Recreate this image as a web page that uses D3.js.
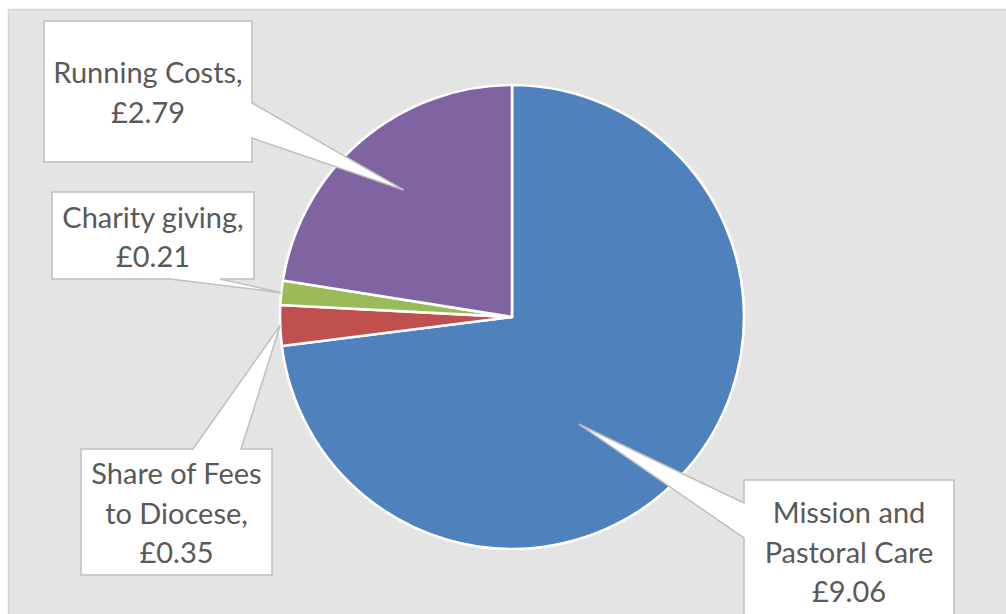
<!DOCTYPE html>
<html>
<head>
<meta charset="utf-8">
<script src="https://cdn.jsdelivr.net/npm/d3@7"></script>
<style>
  html, body { margin: 0; padding: 0; background: #ffffff; }
  svg { display: block; }
</style>
</head>
<body>
<svg id="chart" width="1006" height="614"></svg>
<script>
// ---- data ----
const categories = ["Mission and Pastoral Care", "Share of Fees to Diocese", "Charity giving", "Running Costs"];
const values = [9.06, 0.35, 0.21, 2.79];
const labelLines = [
  ["Mission and", "Pastoral Care", "£9.06"],
  ["Share of Fees", "to Diocese,", "£0.35"],
  ["Charity giving,", "£0.21"],
  ["Running Costs,", "£2.79"]
];
const colors = ["#4f81bd", "#c0504d", "#9bbb59", "#8064a2"];

// ---- layout (positions only) ----
const W = 1006, H = 614;
const cx = 512, cy = 317, R = 232;
const callouts = [
  { box: [744, 480, 954, 640], side: "left",   a: 503, b: 538, tipAngle: 148, tipFrac: 0.545, baseline: 523 },
  { box: [81, 449, 272, 575],  side: "top",    a: 193, b: 241, tipAngle: null, tipFrac: 1.0, baseline: 484 },
  { box: [52, 192, 254, 279],  side: "bottom", a: 170, b: 220, tipAngle: null, tipFrac: 1.0, baseline: 227.5 },
  { box: [44, 21, 252, 162],   side: "right",  a: 103, b: 138, tipAngle: null, tipFrac: 0.72, baseline: 83 }
];
const lineStep = 39.5;

const svg = d3.select("#chart");

// chart area background
svg.append("rect")
  .attr("x", 8.5).attr("y", 9.5)
  .attr("width", W + 20).attr("height", H + 20)
  .attr("fill", "#e4e4e4")
  .attr("stroke", "#d6d6d6")
  .attr("stroke-width", 1.5);

const pie = d3.pie().sort(null).value(d => d).startAngle(0).endAngle(2 * Math.PI);
const arcs = pie(values);
const arc = d3.arc().innerRadius(0).outerRadius(R);

const g = svg.append("g").attr("transform", `translate(${cx},${cy})`);
g.selectAll("path.slice")
  .data(arcs)
  .join("path")
  .attr("class", "slice")
  .attr("d", arc)
  .attr("fill", (d, i) => colors[i])
  .attr("stroke", "#ffffff")
  .attr("stroke-width", 2.6)
  .attr("stroke-linejoin", "round");

// callouts
function tipPoint(d, c) {
  const ang = c.tipAngle != null ? c.tipAngle * Math.PI / 180 : (d.startAngle + d.endAngle) / 2;
  const r = R * c.tipFrac;
  return [cx + r * Math.sin(ang), cy - r * Math.cos(ang)];
}
function calloutPath(c, tip) {
  const [x0, y0, x1, y1] = c.box;
  let pts;
  if (c.side === "right") {
    pts = [[x0, y0], [x1, y0], [x1, c.a], tip, [x1, c.b], [x1, y1], [x0, y1]];
  } else if (c.side === "left") {
    pts = [[x0, y0], [x1, y0], [x1, y1], [x0, y1], [x0, c.b], tip, [x0, c.a]];
  } else if (c.side === "top") {
    pts = [[x0, y0], [c.a, y0], tip, [c.b, y0], [x1, y0], [x1, y1], [x0, y1]];
  } else {
    pts = [[x0, y0], [x1, y0], [x1, y1], [c.b, y1], tip, [c.a, y1], [x0, y1]];
  }
  return "M" + pts.map(p => p.join(",")).join("L") + "Z";
}

const lg = svg.append("g");
arcs.forEach((d, i) => {
  const c = callouts[i];
  const tip = tipPoint(d, c);
  lg.append("path")
    .attr("d", calloutPath(c, tip))
    .attr("fill", "#ffffff")
    .attr("stroke", "#bfbfbf")
    .attr("stroke-width", 1.5)
    .attr("stroke-linejoin", "miter");
  const mx = (c.box[0] + c.box[2]) / 2;
  const t = lg.append("text")
    .attr("text-anchor", "middle")
    .attr("font-family", "Lato, 'Open Sans', sans-serif")
    .attr("font-size", 29)
    .attr("fill", "#595959");
  labelLines[i].forEach((line, k) => {
    t.append("tspan").attr("x", mx).attr("y", c.baseline + k * lineStep).text(line);
  });
});
</script>
</body>
</html>
